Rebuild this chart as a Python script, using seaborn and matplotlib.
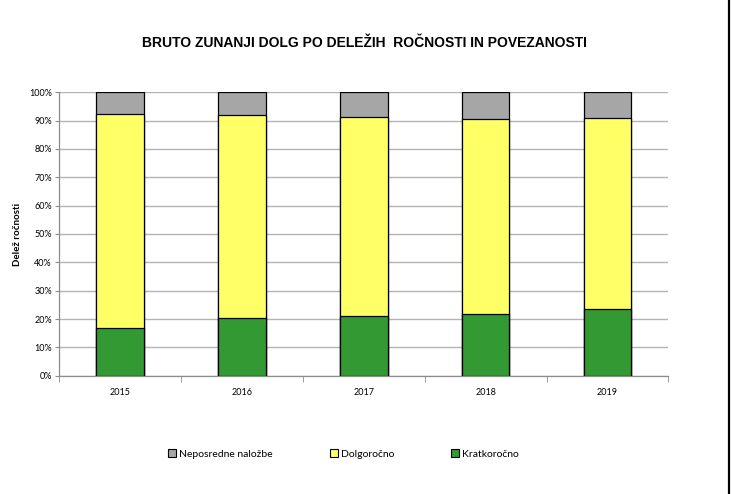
import numpy as np
import pandas as pd
import matplotlib
matplotlib.use("Agg")
import matplotlib.pyplot as plt
from matplotlib.patches import Patch
from matplotlib.lines import Line2D
import seaborn as sns

# data (shares in %)
years = ["2015", "2016", "2017", "2018", "2019"]
kratkorocno = [16.7, 20.3, 21.0, 21.8, 23.6]
dolgorocno = [75.8, 71.8, 70.3, 68.6, 67.5]
neposredne = [7.5, 7.9, 8.7, 9.6, 8.9]

c_gray = "#a6a6a6"
c_yellow = "#ffff66"
c_green = "#339933"

df = pd.DataFrame({"Leto": years, "K": kratkorocno, "D": dolgorocno, "N": neposredne})
df["top_d"] = df["K"] + df["D"]
df["top_n"] = df["top_d"] + df["N"]

sns.set_style("white")
plt.rcParams["text.color"] = "black"
plt.rcParams["xtick.color"] = "black"
plt.rcParams["ytick.color"] = "black"
plt.rcParams["axes.labelcolor"] = "black"

fig = plt.figure(figsize=(7.31, 4.94), dpi=100)
ax = fig.add_axes([0.0807, 0.2395, 0.8338, 0.5737])

# stacked bars drawn from the top down
for col, color in [("top_n", c_gray), ("top_d", c_yellow), ("K", c_green)]:
    sns.barplot(data=df, x="Leto", y=col, color=color, width=0.39,
                edgecolor="black", linewidth=0.9, saturation=1, ax=ax, zorder=3)

ax.set_ylim(0, 100)
ax.set_xlim(-0.5, 4.5)
ax.set_yticks(np.arange(0, 101, 10))
ax.set_yticklabels([f"{v}%" for v in range(0, 101, 10)], fontsize=6.5, family="Lato")
ax.yaxis.grid(True, color="#b3b3b3", linewidth=1.0, zorder=0)
ax.set_axisbelow(True)
for s in ["top", "right"]:
    ax.spines[s].set_visible(False)
for s in ["left", "bottom"]:
    ax.spines[s].set_color("#8c8c8c")
    ax.spines[s].set_linewidth(0.9)
ax.tick_params(axis="y", length=3, color="#8c8c8c", labelcolor="black", pad=2, left=True)
ax.set_xticks(np.arange(-0.5, 4.6, 1), minor=True)
ax.tick_params(axis="x", which="minor", length=4, color="#8c8c8c", bottom=True)
ax.tick_params(axis="x", which="major", length=0, pad=9, labelcolor="black")
for lab in ax.get_xticklabels():
    lab.set_fontsize(6.5)
    lab.set_family("Lato")
ax.set_xlabel("")
ax.set_ylabel("Delež ročnosti", fontsize=7, fontweight="bold", family="Lato",
              color="black", labelpad=5)

fig.text(0.498, 0.913, "BRUTO ZUNANJI DOLG PO DELEŽIH  ROČNOSTI IN POVEZANOSTI",
         ha="center", va="center", fontsize=10, fontweight="bold",
         family="Liberation Sans", color="black")

handles = [Patch(facecolor=c_gray, edgecolor="black", linewidth=0.8, label="Neposredne naložbe"),
           Patch(facecolor=c_yellow, edgecolor="black", linewidth=0.8, label="Dolgoročno"),
           Patch(facecolor=c_green, edgecolor="black", linewidth=0.8, label="Kratkoročno")]
fig.legend(handles=handles, loc="center", bbox_to_anchor=(0.47, 0.081), ncol=3,
           frameon=False, prop={"family": "Lato", "size": 7.5},
           handlelength=0.75, handleheight=0.75, handletextpad=0.3, columnspacing=5.5)

# chart frame edge on the right
fig.add_artist(Line2D([0.9973, 0.9973], [0, 1], color="black", linewidth=1.6,
                      transform=fig.transFigure))

fig.savefig("out.png", dpi=100)
